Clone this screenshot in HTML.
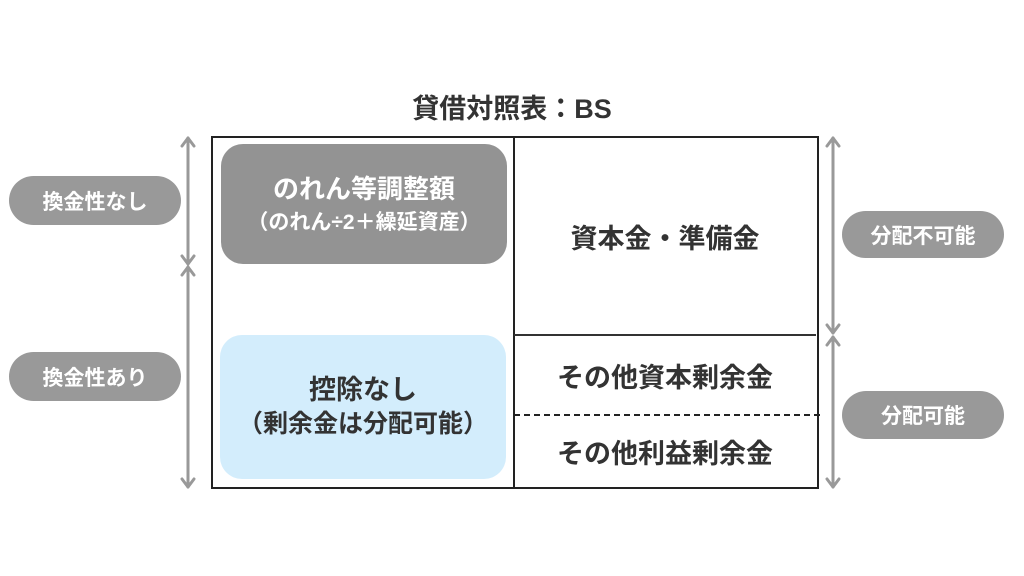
<!DOCTYPE html>
<html><head><meta charset="utf-8"><style>
body{margin:0;width:1024px;height:576px;background:#fff;position:relative;overflow:hidden;font-family:"Liberation Sans","Noto Sans CJK JP",sans-serif;font-weight:bold;}
.a{position:absolute;display:flex;align-items:center;justify-content:center;text-align:center;white-space:nowrap;}
.pill{background:#999;color:#fff;border-radius:26px;font-size:21px;}
.t{color:#333;font-size:27px;}
</style></head><body>
<div class="a" style="left:312px;top:86px;width:400px;height:40px;font-size:27px;color:#333;">貸借対照表：BS</div>
<div style="position:absolute;left:211px;top:136px;width:604px;height:349px;border:2px solid #222;"></div>
<div style="position:absolute;left:513px;top:136px;width:2px;height:351px;background:#222;"></div>
<div style="position:absolute;left:514px;top:334px;width:302px;height:2px;background:#333;"></div>
<div style="position:absolute;left:514px;top:414px;width:306px;height:0;border-top:2px dashed #222;"></div>
<div class="a" style="left:221px;top:144px;width:286px;height:120px;background:#939393;border-radius:22px;color:#fff;flex-direction:column;line-height:1.4;"><div style="font-size:26px;">のれん等調整額</div><div style="font-size:21px;">（のれん÷2＋繰延資産）</div></div>
<div class="a t" style="left:220px;top:335px;width:286px;height:144px;background:#d3edfc;border-radius:22px;flex-direction:column;line-height:1.35;"><div style="font-size:27px;">控除なし</div><div style="font-size:25px;">（剰余金は分配可能）</div></div>
<div class="a t" style="left:515px;top:138px;width:300px;height:196px;">資本金・準備金</div>
<div class="a t" style="left:515px;top:336px;width:300px;height:78px;">その他資本剰余金</div>
<div class="a t" style="left:515px;top:416px;width:300px;height:70px;">その他利益剰余金</div>
<div class="a pill" style="left:9px;top:176px;width:172px;height:49px;">換金性なし</div>
<div class="a pill" style="left:9px;top:352px;width:172px;height:49px;">換金性あり</div>
<div class="a pill" style="left:842px;top:211px;width:162px;height:47px;">分配不可能</div>
<div class="a pill" style="left:842px;top:391px;width:162px;height:48px;">分配可能</div>
<svg width="1024" height="576" style="position:absolute;left:0;top:0" fill="none" stroke="#999" stroke-width="3" stroke-linecap="round" stroke-linejoin="round">
<line x1="188" y1="138" x2="188" y2="264"/><polyline points="182,146 188,138 194,146"/><polyline points="182,256 188,264 194,256"/>
<line x1="188" y1="267" x2="188" y2="487"/><polyline points="182,275 188,267 194,275"/><polyline points="182,479 188,487 194,479"/>
<line x1="833" y1="138" x2="833" y2="333"/><polyline points="827,146 833,138 839,146"/><polyline points="827,325 833,333 839,325"/>
<line x1="833" y1="337" x2="833" y2="487"/><polyline points="827,345 833,337 839,345"/><polyline points="827,479 833,487 839,479"/>
</svg>
</body></html>
